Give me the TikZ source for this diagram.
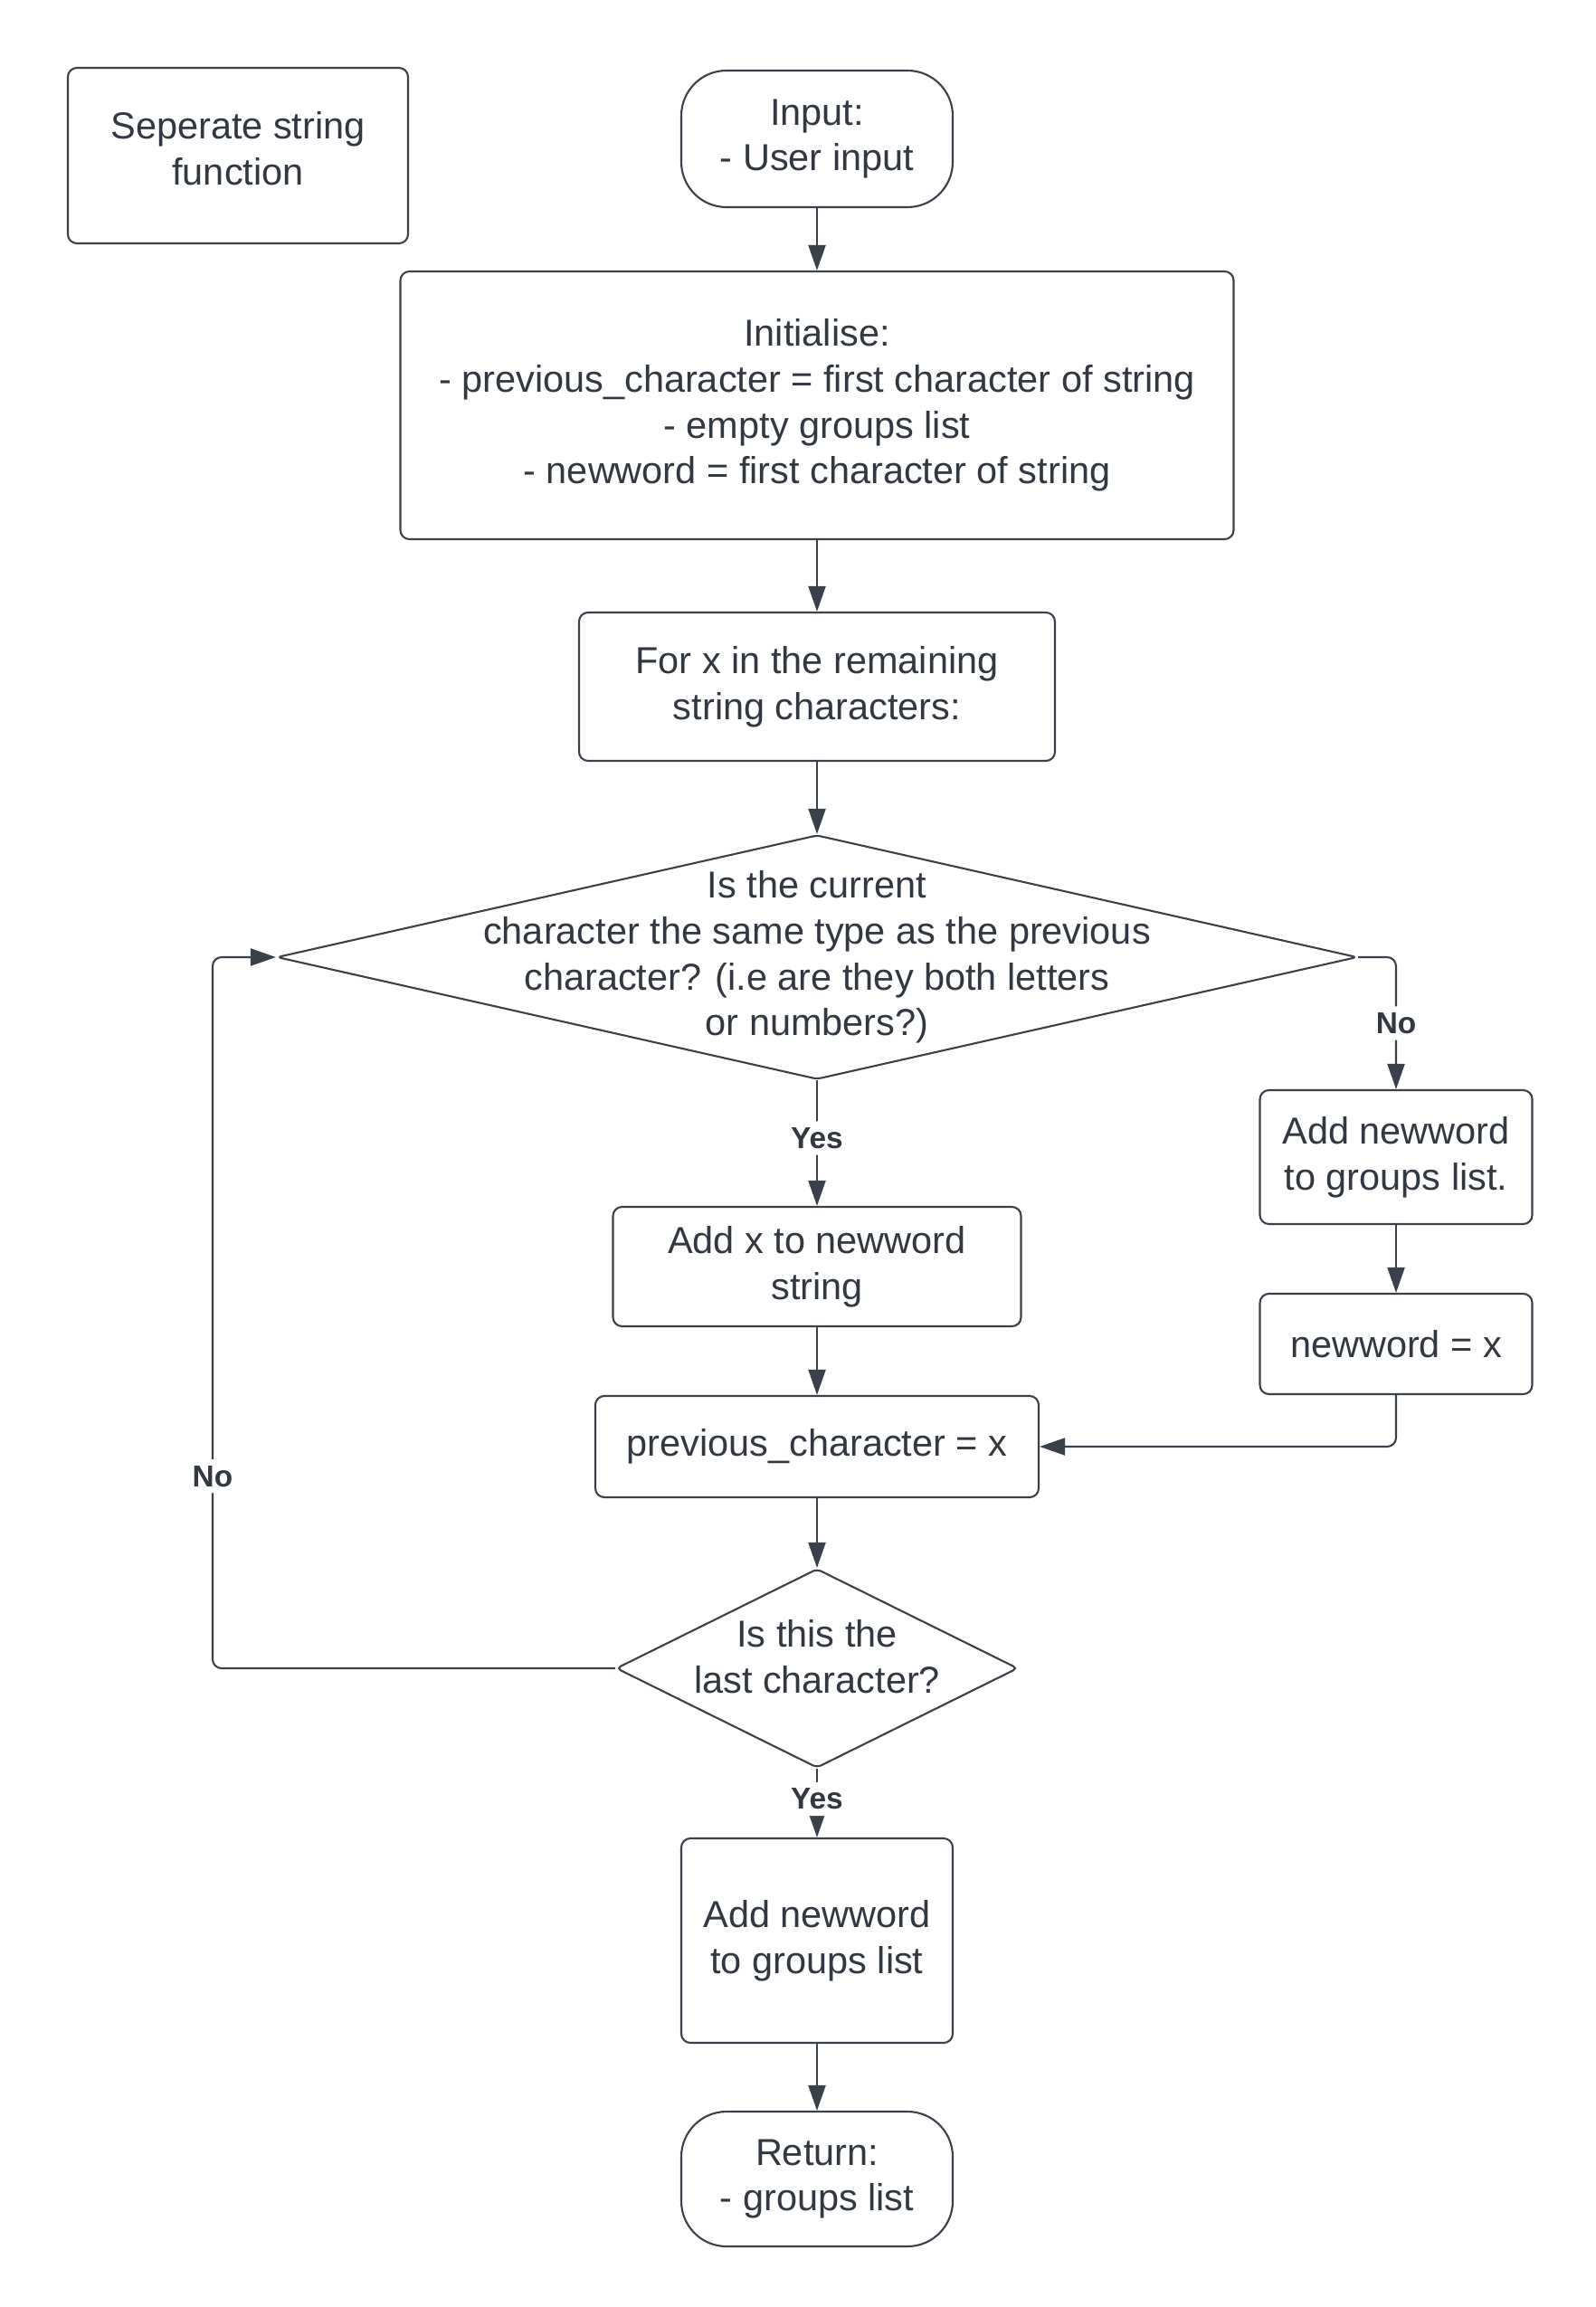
\documentclass[tikz,border=0pt]{standalone}
\usepackage{fontspec}
\setmainfont{Liberation Sans}
\usepackage{tikz}
\usetikzlibrary{shapes.geometric,arrows.meta}
\definecolor{linegray}{HTML}{3A414A}
\definecolor{textgray}{HTML}{323842}

\tikzset{
  box/.style={draw=linegray, line width=0.6pt, rounded corners=1mm, align=center,
    text=textgray, font=\fontsize{11.8}{14.4}\selectfont, inner sep=0pt},
  term/.style={box, rounded corners=5mm},
  decision/.style={diamond, draw=linegray, line width=0.6pt, rounded corners=0.5mm, inner sep=0pt},
  txt/.style={align=center, text=textgray, font=\fontsize{11.8}{14.4}\selectfont},
  flow/.style={draw=linegray, line width=0.6pt, -{Triangle[length=2.8mm,width=1.9mm]}, rounded corners=1mm},
  lbl/.style={fill=white, text=textgray, font=\fontsize{9.5}{10}\selectfont\bfseries, inner sep=2pt}
}

\begin{document}
\begin{tikzpicture}
    \useasboundingbox (0,0) rectangle (17.63,-25.50);

    \node[box, minimum width=3.76cm, minimum height=1.94cm] (title) at (2.63,-1.72) {};
    \node[txt] (titletxt) at ([yshift=0.8mm]title.center) {Seperate string\\function};

    \node[term, minimum width=3.00cm, minimum height=1.51cm] (input) at (9.03,-1.535) {Input:\\- User input};
    \node[box, minimum width=9.21cm, minimum height=2.96cm] (init) at (9.03,-4.48)
      {Initialise:\\- previous\_character = first character of string\\- empty groups list\\- newword = first character of string};
    \node[box, minimum width=5.26cm, minimum height=1.64cm] (forx) at (9.03,-7.59) {For x in the remaining\\string characters:};

    \node[decision, minimum width=11.94cm, minimum height=2.70cm] (d1) at (9.03,-10.58) {};
    \node[txt] (d1txt) at (d1) {Is the current\\character the same type as the previous\\character? (i.e are they both letters\\or numbers?)};

    \node[box, minimum width=4.51cm, minimum height=1.32cm] (addx) at (9.03,-14.00) {Add x to newword\\string};
    \node[box, minimum width=3.01cm, minimum height=1.48cm] (addnw) at (15.43,-12.79) {Add newword\\to groups list.};
    \node[box, minimum width=3.01cm, minimum height=1.11cm] (nwx) at (15.43,-14.855) {newword = x};
    \node[box, minimum width=4.90cm, minimum height=1.12cm] (prev) at (9.03,-15.99) {previous\_character = x};

    \node[decision, minimum width=4.44cm, minimum height=2.20cm] (d2) at (9.03,-18.44) {};
    \node[txt] (d2txt) at ([yshift=1.3mm]d2.center) {Is this the\\last character?};

    \node[box, minimum width=3.00cm, minimum height=2.26cm] (addgl) at (9.03,-21.45) {Add newword\\to groups list};
    \node[term, minimum width=3.00cm, minimum height=1.49cm] (ret) at (9.03,-24.085) {Return:\\- groups list};

    % connectors
    \draw[flow] (input) -- (init);
    \draw[flow] (init) -- (forx);
    \draw[flow] (forx) -- (d1);
    \draw[flow] (d1) -- node[lbl, pos=0.46] {Yes} (addx);
    \draw[flow] (d1.east) -| node[lbl, pos=0.75] {No} (addnw.north);
    \draw[flow] (addnw) -- (nwx);
    \draw[flow] (addx) -- (prev);
    \draw[flow] (nwx.south) |- (prev.east);
    \draw[flow] (prev) -- (d2);
    \draw[flow] (d2.west) -| node[lbl, pos=0.635] {No} ([xshift=-7mm]d1.west) -- (d1.west);
    \draw[flow] (d2) -- node[lbl, pos=0.44] {Yes} (addgl);
    \draw[flow] (addgl) -- (ret);
\end{tikzpicture}
\end{document}
